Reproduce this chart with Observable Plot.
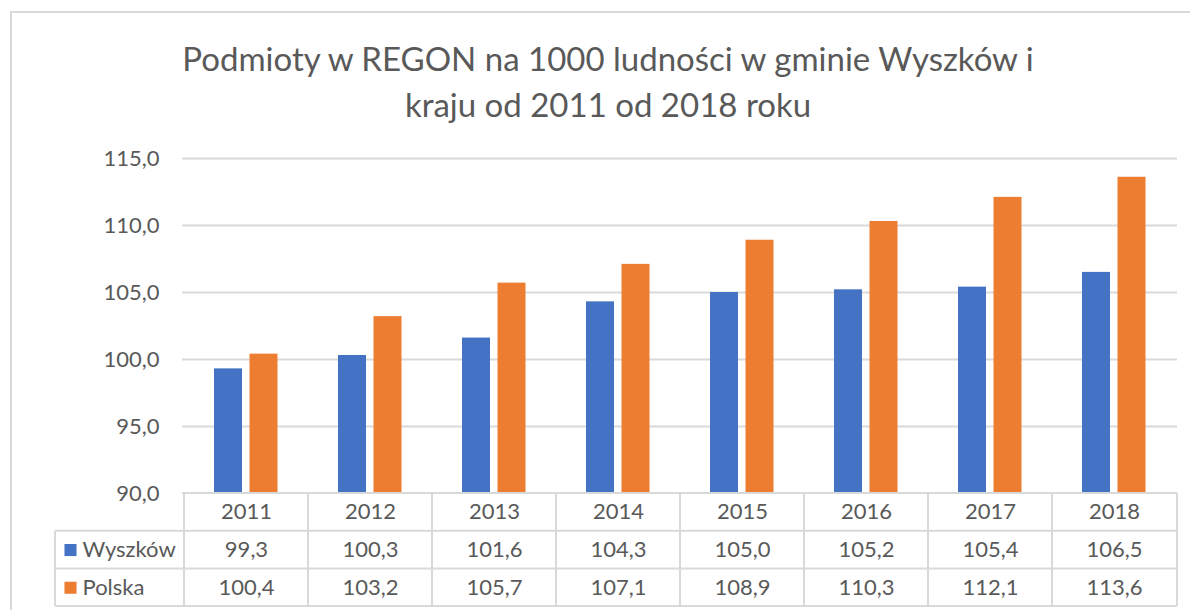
<!DOCTYPE html>
<html>
<head>
<meta charset="utf-8">
<script src="https://cdn.jsdelivr.net/npm/d3@7"></script>
<script src="https://cdn.jsdelivr.net/npm/@observablehq/plot@0.6"></script>
<style>
  html, body { margin: 0; padding: 0; background: #fff; }
  #wrap { position: relative; width: 1190px; height: 610px; overflow: hidden; font-family: Lato, "Open Sans", sans-serif; }
  #border { position: absolute; left: 10px; top: 11px; width: 1300px; height: 700px; border-left: 2px solid #d9d9d9; border-top: 2px solid #d9d9d9; box-sizing: border-box; }
  #title { position: absolute; left: 0; top: 35px; width: 1216px; text-align: center; color: #595959; font-size: 33px; font-weight: 400; line-height: 46px; }
  #chart { position: absolute; left: 0; top: 0; }
</style>
</head>
<body>
<div id="wrap">
  <div id="border"></div>
  <div id="chart"></div>
  <div id="title">Podmioty w REGON na 1000 ludności w gminie Wyszków i<br>kraju od 2011 od 2018 roku</div>
</div>
<script>
const years = ["2011", "2012", "2013", "2014", "2015", "2016", "2017", "2018"];
const wyszkow = [99.3, 100.3, 101.6, 104.3, 105.0, 105.2, 105.4, 106.5];
const polska = [100.4, 103.2, 105.7, 107.1, 108.9, 110.3, 112.1, 113.6];
const seriesNames = ["Wyszków", "Polska"];
const seriesColors = ["#4472C4", "#ED7D31"];
const yTicks = [90, 95, 100, 105, 110, 115];

const fmt = v => v.toFixed(1).replace(".", ",");
const rowsW = years.map((year, i) => ({year, value: wyszkow[i]}));
const rowsP = years.map((year, i) => ({year, value: polska[i]}));

const gray = "#595959";
const lineColor = "#d9d9d9";
const rowH = 37.7;
const leftCol = 55;

function tableLines(index, scales, values, dims) {
  const x = scales.x;
  const y0 = dims.height - dims.marginBottom;
  const x0 = dims.marginLeft;
  const x1 = dims.width - dims.marginRight;
  const g = d3.create("svg:g").attr("stroke", lineColor).attr("stroke-width", 2).attr("fill", "none");
  g.append("line").attr("x1", x0).attr("x2", x1).attr("y1", y0).attr("y2", y0);
  for (let r = 1; r <= 3; r++) {
    g.append("line").attr("x1", leftCol).attr("x2", x1).attr("y1", y0 + r * rowH).attr("y2", y0 + r * rowH);
  }
  g.append("line").attr("x1", leftCol).attr("x2", leftCol).attr("y1", y0 + rowH).attr("y2", y0 + 3 * rowH);
  for (const yr of years) {
    const xx = x(yr);
    g.append("line").attr("x1", xx).attr("x2", xx).attr("y1", y0).attr("y2", y0 + 3 * rowH);
  }
  g.append("line").attr("x1", x1).attr("x2", x1).attr("y1", y0).attr("y2", y0 + 3 * rowH);
  return g.node();
}

const fontSize = 22;
const chart = Plot.plot({
  width: 1190,
  height: 610,
  marginLeft: 182,
  marginRight: 13,
  marginTop: 158,
  marginBottom: 117,
  style: {fontFamily: "Lato, 'Open Sans', sans-serif", fontSize: fontSize + "px", color: gray, background: "transparent"},
  x: {domain: years, padding: 0, axis: null},
  y: {domain: [90, 115], ticks: yTicks, tickFormat: fmt, label: null},
  marks: [
    Plot.gridY(yTicks.filter(t => t > 90), {stroke: lineColor, strokeOpacity: 1, strokeWidth: 2}),
    Plot.axisY(yTicks, {tickSize: 0, tickPadding: 23, tickFormat: fmt, fill: gray, fontSize, label: null}),
    Plot.barY(rowsW, {x: "year", y1: 90, y2: "value", fill: seriesColors[0], insetLeft: 30, insetRight: 66}),
    Plot.barY(rowsP, {x: "year", y1: 90, y2: "value", fill: seriesColors[1], insetLeft: 65.5, insetRight: 30.5}),
    tableLines,
    Plot.text(years, {x: d => d, frameAnchor: "bottom", dy: rowH / 2, lineAnchor: "middle", fill: gray, fontSize}),
    Plot.text(rowsW, {x: "year", text: d => fmt(d.value), frameAnchor: "bottom", dy: rowH * 1.5, lineAnchor: "middle", fill: gray, fontSize}),
    Plot.text(rowsP, {x: "year", text: d => fmt(d.value), frameAnchor: "bottom", dy: rowH * 2.5, lineAnchor: "middle", fill: gray, fontSize}),
    Plot.dot([seriesNames[0]], {frameAnchor: "bottom-left", dx: -112, dy: rowH * 1.5, symbol: "square", r: 6.8, fill: seriesColors[0], stroke: null}),
    Plot.dot([seriesNames[1]], {frameAnchor: "bottom-left", dx: -112, dy: rowH * 2.5, symbol: "square", r: 6.8, fill: seriesColors[1], stroke: null}),
    Plot.text([seriesNames[0]], {text: d => d, frameAnchor: "bottom-left", dx: -100, dy: rowH * 1.5, lineAnchor: "middle", textAnchor: "start", fill: gray, fontSize}),
    Plot.text([seriesNames[1]], {text: d => d, frameAnchor: "bottom-left", dx: -100, dy: rowH * 2.5, lineAnchor: "middle", textAnchor: "start", fill: gray, fontSize})
  ]
});
document.getElementById("chart").appendChild(chart);
</script>
</body>
</html>
